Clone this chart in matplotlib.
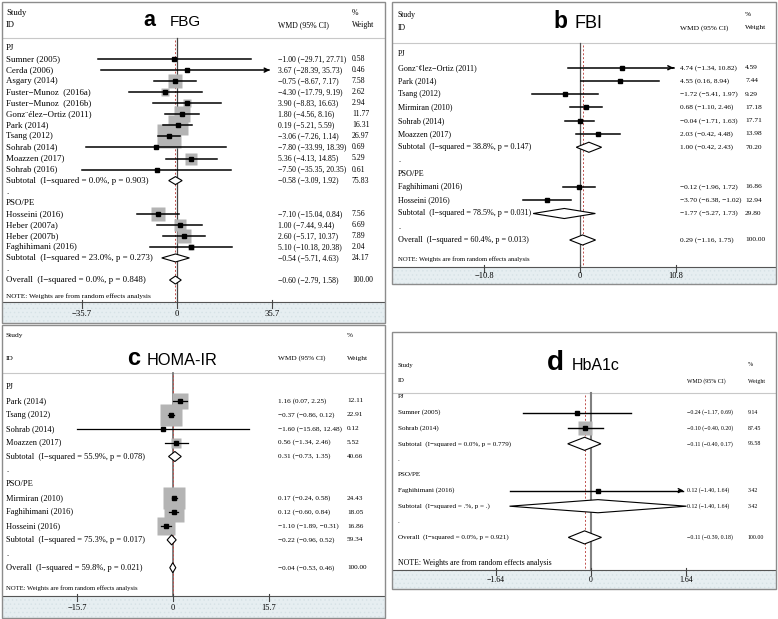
import numpy as np
import matplotlib.pyplot as plt
import matplotlib.transforms as mtransforms
from matplotlib.patches import Rectangle, Polygon

plt.rcParams['font.family'] = ['Liberation Serif', 'DejaVu Serif']
plt.rcParams['hatch.linewidth'] = 0.5

nan = np.nan

# ---------------- data: panel a (FBG) ----------------
a_labels = ['PJ', 'Sumner (2005)', 'Cerda (2006)', 'Asgary (2014)', 'Fuster\u2212Munoz  (2016a)',
            'Fuster\u2212Munoz  (2016b)', 'Gonz\u00a8\u00e9lez\u2212Ortiz (2011)', 'Park (2014)', 'Tsang (2012)',
            'Sohrab (2014)', 'Moazzen (2017)', 'Sohrab (2016)',
            'Subtotal  (I\u2212squared = 0.0%, p = 0.903)', '.', 'PSO/PE', 'Hosseini (2016)',
            'Heber (2007a)', 'Heber (2007b)', 'Faghihimani (2016)',
            'Subtotal  (I\u2212squared = 23.0%, p = 0.273)', '.',
            'Overall  (I\u2212squared = 0.0%, p = 0.848)']
a_kind = ['g', 's', 's', 's', 's', 's', 's', 's', 's', 's', 's', 's', 't', 'd', 'g', 's', 's', 's', 's', 't', 'd', 'o']
a_est = [nan, -1.00, 3.67, -0.75, -4.30, 3.90, 1.80, 0.19, -3.06, -7.80, 5.36, -7.50, -0.58, nan, nan,
         -7.10, 1.00, 2.60, 5.10, -0.54, nan, -0.60]
a_lo = [nan, -29.71, -28.39, -8.67, -17.79, -8.83, -4.56, -5.21, -7.26, -33.99, -4.13, -35.35, -3.09, nan, nan,
        -15.04, -7.44, -5.17, -10.18, -5.71, nan, -2.79]
a_hi = [nan, 27.71, 35.73, 7.17, 9.19, 16.63, 8.16, 5.59, 1.14, 18.39, 14.85, 20.35, 1.92, nan, nan,
        0.84, 9.44, 10.37, 20.38, 4.63, nan, 1.58]
a_wt = [nan, 0.58, 0.46, 7.58, 2.62, 2.94, 11.77, 16.31, 26.97, 0.69, 5.29, 0.61, 75.83, nan, nan,
        7.56, 6.69, 7.89, 2.04, 24.17, nan, 100.00]
a_arrow = ['Cerda (2006)']

# ---------------- data: panel b (FBI) ----------------
b_labels = ['PJ', 'Gonz\u00a8\u00a2lez\u2212Ortiz (2011)', 'Park (2014)', 'Tsang (2012)', 'Mirmiran (2010)',
            'Sohrab (2014)', 'Moazzen (2017)', 'Subtotal  (I\u2212squared = 38.8%, p = 0.147)', '.', 'PSO/PE',
            'Faghihimani (2016)', 'Hosseini (2016)', 'Subtotal  (I\u2212squared = 78.5%, p = 0.031)', '.',
            'Overall  (I\u2212squared = 60.4%, p = 0.013)']
b_kind = ['g', 's', 's', 's', 's', 's', 's', 't', 'd', 'g', 's', 's', 't', 'd', 'o']
b_est = [nan, 4.74, 4.55, -1.72, 0.68, -0.04, 2.03, 1.00, nan, nan, -0.12, -3.70, -1.77, nan, 0.29]
b_lo = [nan, -1.34, 0.16, -5.41, -1.10, -1.71, -0.42, -0.42, nan, nan, -1.96, -6.38, -5.27, nan, -1.16]
b_hi = [nan, 10.82, 8.94, 1.97, 2.46, 1.63, 4.48, 2.43, nan, nan, 1.72, -1.02, 1.73, nan, 1.75]
b_wt = [nan, 4.59, 7.44, 9.29, 17.18, 17.71, 13.98, 70.20, nan, nan, 16.86, 12.94, 29.80, nan, 100.00]
b_arrow = ['Gonz\u00a8\u00a2lez\u2212Ortiz (2011)']

# ---------------- data: panel c (HOMA-IR) ----------------
c_labels = ['PJ', 'Park (2014)', 'Tsang (2012)', 'Sohrab (2014)', 'Moazzen (2017)',
            'Subtotal  (I\u2212squared = 55.9%, p = 0.078)', '.', 'PSO/PE', 'Mirmiran (2010)',
            'Faghihimani (2016)', 'Hosseini (2016)', 'Subtotal  (I\u2212squared = 75.3%, p = 0.017)', '.',
            'Overall  (I\u2212squared = 59.8%, p = 0.021)']
c_kind = ['g', 's', 's', 's', 's', 't', 'd', 'g', 's', 's', 's', 't', 'd', 'o']
c_est = [nan, 1.16, -0.37, -1.60, 0.56, 0.31, nan, nan, 0.17, 0.12, -1.10, -0.22, nan, -0.04]
c_lo = [nan, 0.07, -0.86, -15.68, -1.34, -0.73, nan, nan, -0.24, -0.60, -1.89, -0.96, nan, -0.53]
c_hi = [nan, 2.25, 0.12, 12.48, 2.46, 1.35, nan, nan, 0.58, 0.84, -0.31, 0.52, nan, 0.46]
c_wt = [nan, 12.11, 22.91, 0.12, 5.52, 40.66, nan, nan, 24.43, 18.05, 16.86, 59.34, nan, 100.00]
c_arrow = []

# ---------------- data: panel d (HbA1c) ----------------
d_labels = ['PJ', 'Sumner (2005)', 'Sohrab (2014)', 'Subtotal  (I\u2212squared = 0.0%, p = 0.779)', '.',
            'PSO/PE', 'Faghihimani (2016)', 'Subtotal  (I\u2212squared = .%, p = .)', '.',
            'Overall  (I\u2212squared = 0.0%, p = 0.921)']
d_kind = ['g', 's', 's', 't', 'd', 'g', 's', 't', 'd', 'o']
d_est = [nan, -0.24, -0.10, -0.11, nan, nan, 0.12, 0.12, nan, -0.11]
d_lo = [nan, -1.17, -0.40, -0.40, nan, nan, -1.40, -1.40, nan, -0.39]
d_hi = [nan, 0.69, 0.20, 0.17, nan, nan, 1.64, 1.64, nan, 0.18]
d_wt = [nan, 9.14, 87.45, 96.58, nan, nan, 3.42, 3.42, nan, 100.00]
d_arrow = ['Faghihimani (2016)']

# ---------------- layout (pixels) ----------------
W, H = 778, 619
panels = [
    dict(data=(a_labels, a_kind, a_est, a_lo, a_hi, a_wt, a_arrow), box=(2, 2, 385, 323), band=302, sep=38,
         x0=177, pxu=2.675, tick=35.7, row0=48, step=11.05, note_y=296, lab_x=6, wmd_x=278, wt_x=352,
         study_y=13, id_y=25, letter='a', name='FBG', let_x=143, name_x=170, base_y=26, fs_let=15.5, fs_name=11,
         fs_lab=6.4, fs_num=5.6, fs_head=6.2, fs_note=5.2, fs_tick=6.2, sq=4.8, mk=5, lw=1.1, dh=0.36,
         zero_c='#444444', zero_lw=0.9),
    dict(data=(b_labels, b_kind, b_est, b_lo, b_hi, b_wt, b_arrow), box=(392, 2, 776, 284), band=267, sep=43,
         x0=580, pxu=8.89, tick=10.8, row0=54.5, step=13.25, note_y=259, lab_x=398, wmd_x=680, wt_x=745,
         study_y=15, id_y=28, letter='b', name='FBI', let_x=553, name_x=575, base_y=28, fs_let=16.5, fs_name=13,
         fs_lab=5.9, fs_num=5.3, fs_head=5.6, fs_note=4.8, fs_tick=6.0, sq=0.0, mk=4.6, lw=1.1, dh=0.38,
         zero_c='#555555', zero_lw=0.9),
    dict(data=(c_labels, c_kind, c_est, c_lo, c_hi, c_wt, c_arrow), box=(2, 325, 385, 618), band=596, sep=373,
         x0=173, pxu=6.1, tick=15.7, row0=387, step=13.9, note_y=588, lab_x=6, wmd_x=278, wt_x=347,
         study_y=335, id_y=358, letter='c', name='HOMA-IR', let_x=127, name_x=147, base_y=365, fs_let=17,
         fs_name=11.7, fs_lab=6.0, fs_num=5.2, fs_head=5.4, fs_note=4.8, fs_tick=6.0, sq=4.5, mk=4, lw=0.9,
         dh=0.36, zero_c='#777777', zero_lw=1.3),
    dict(data=(d_labels, d_kind, d_est, d_lo, d_hi, d_wt, d_arrow), box=(392, 332, 776, 589), band=570, sep=393,
         x0=591, pxu=58.2, tick=1.64, row0=397, step=15.6, note_y=563, lab_x=398, wmd_x=687, wt_x=748,
         study_y=365, id_y=381, letter='d', name='HbA1c', let_x=547, name_x=572, base_y=370, fs_let=20,
         fs_name=11.5, fs_lab=5.1, fs_num=4.2, fs_head=4.8, fs_note=5.6, fs_tick=5.6, sq=1.6, mk=4, lw=1.0,
         dh=0.42, zero_c='#808080', zero_lw=1.5),
]


def fmt(v):
    return f'{v:.2f}'.replace('-', '\u2212')


fig = plt.figure(figsize=(W / 100, H / 100), dpi=100)

for p in panels:
    labels, kind, est, lo, hi, wt, arrows = p['data']
    l, t, r, b = p['box']
    ax = fig.add_axes([l / W, 1 - b / H, (r - l) / W, (b - t) / H])
    ax.set_xlim((l - p['x0']) / p['pxu'], (r - p['x0']) / p['pxu'])
    ax.set_ylim((b - p['row0']) / p['step'], (t - p['row0']) / p['step'])
    ax.axis('off')

    def fx(px):
        return (px - l) / (r - l)

    def fy(py):
        return (b - py) / (b - t)

    xa = mtransforms.blended_transform_factory(ax.transAxes, ax.transData)
    dxa = mtransforms.blended_transform_factory(ax.transData, ax.transAxes)

    # border and axis band
    ax.add_patch(Rectangle((0, 0), 1, fy(p['band']), transform=ax.transAxes, facecolor='#e6eef1',
                           edgecolor='#d6e2e6', hatch='....', lw=0, zorder=0))
    ax.add_patch(Rectangle((0, 0), 1, 1, transform=ax.transAxes, fill=False, edgecolor='#8c8c8c',
                           lw=1.0, clip_on=False, zorder=5))
    ax.plot([0, 1], [fy(p['band'])] * 2, transform=ax.transAxes, color='#555555', lw=0.8, zorder=3)
    ax.plot([0, 1], [fy(p['sep'])] * 2, transform=ax.transAxes, color='#c8c8c8', lw=0.8, zorder=1)

    # ticks and tick labels
    tk = p['tick']
    for v in [-tk, 0, tk]:
        ax.plot([v, v], [fy(p['band']) + 0.006, fy(p['band']) - 0.018], transform=dxa,
                color='#444444', lw=0.8, zorder=4)
        lab = '0' if v == 0 else f'{v:g}'.replace('-', '\u2212')
        ax.text(v, fy((p['band'] + b) / 2 + 1), lab, transform=dxa, ha='center', va='center',
                fontsize=p['fs_tick'], zorder=4)

    # null line and overall line
    ax.plot([0, 0], [fy(p['sep']), fy(p['band'])], transform=dxa, color=p['zero_c'], lw=p['zero_lw'], zorder=1)
    ov = est[kind.index('o')]
    ax.plot([ov, ov], [fy(p['sep'] + 2), fy(p['band'])], transform=dxa, color='#c0504d', lw=0.7,
            dashes=(2, 2), zorder=1)

    # header
    ax.text(fx(p['lab_x']), fy(p['study_y']), 'Study', transform=ax.transAxes, va='center',
            fontsize=p['fs_head'])
    ax.text(fx(p['lab_x']), fy(p['id_y']), 'ID', transform=ax.transAxes, va='center', fontsize=p['fs_head'])
    ax.text(fx(p['wmd_x']), fy(p['id_y']), 'WMD (95% CI)', transform=ax.transAxes, va='center',
            fontsize=p['fs_num'])
    ax.text(fx(p['wt_x']), fy(p['study_y']), '%', transform=ax.transAxes, va='center', fontsize=p['fs_num'])
    ax.text(fx(p['wt_x']), fy(p['id_y']), 'Weight', transform=ax.transAxes, va='center', fontsize=p['fs_num'])
    ax.text(fx(p['let_x']), fy(p['base_y']), p['letter'], transform=ax.transAxes, va='baseline',
            fontsize=p['fs_let'], fontweight='bold', family='Liberation Sans')
    ax.text(fx(p['name_x']), fy(p['base_y']), p['name'], transform=ax.transAxes, va='baseline',
            fontsize=p['fs_name'], family='Liberation Sans')
    ax.text(fx(p['lab_x']), fy(p['note_y']), 'NOTE: Weights are from random effects analysis',
            transform=ax.transAxes, va='center', fontsize=p['fs_note'])

    # rows
    for i, (lab, k) in enumerate(zip(labels, kind)):
        ax.text(fx(p['lab_x']), i, lab, transform=xa, va='center', fontsize=p['fs_lab'])
        if k in ('g', 'd'):
            continue
        ax.text(fx(p['wmd_x']), i, f'{fmt(est[i])} ({fmt(lo[i])}, {fmt(hi[i])})', transform=xa,
                va='center', fontsize=p['fs_num'])
        ax.text(fx(p['wt_x']), i, f'{wt[i]:.2f}', transform=xa, va='center', fontsize=p['fs_num'])
        if k == 's':
            side = p['sq'] * np.sqrt(wt[i])
            if side > 0:
                ax.plot(est[i], i, marker='s', markersize=side * 0.72, color='#b4b4b4', mec='none', zorder=2)
            if lab in arrows:
                ax.plot([lo[i], hi[i] - 0.02 * (hi[i] - lo[i])], [i, i], color='black', lw=p['lw'], zorder=3)
                ax.annotate('', xy=(hi[i], i), xytext=(hi[i] - 0.06 * (hi[i] - lo[i]), i),
                            arrowprops=dict(arrowstyle='->', color='black', lw=p['lw'],
                                            mutation_scale=7), zorder=3)
            else:
                ax.plot([lo[i], hi[i]], [i, i], color='black', lw=p['lw'], zorder=3)
            ax.plot(est[i], i, marker='s', markersize=p['mk'] * 0.72, color='black', zorder=4)
        else:
            h = p['dh']
            ax.add_patch(Polygon([(lo[i], i), (est[i], i - h), (hi[i], i), (est[i], i + h)], closed=True,
                                 facecolor='white', edgecolor='black', lw=0.8, zorder=3))

fig.savefig('out.png', dpi=100, facecolor='white')
